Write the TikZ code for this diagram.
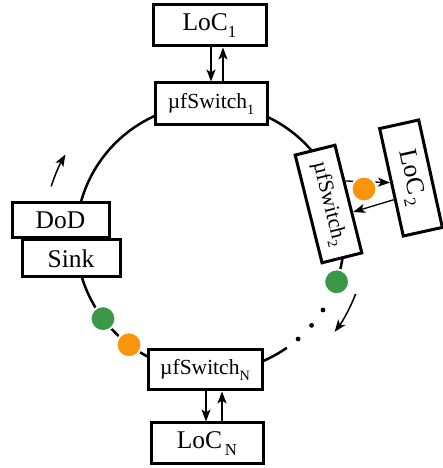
\documentclass[tikz,border=0pt]{standalone}
\usepackage{fontspec}
\setmainfont{Liberation Serif}
\usetikzlibrary{arrows.meta,calc}

\definecolor{hoporange}{RGB}{250,148,10}
\definecolor{hopgreen}{RGB}{58,152,72}
\newcommand\lsub[1]{\raisebox{-0.55ex}{\scalebox{0.66}{#1}}}

\tikzset{
  box/.style={draw, line width=3pt, fill=white, inner sep=0pt,
    minimum height=41pt, font=\fontsize{25.5}{30}\selectfont},
  swbox/.style={box, font=\fontsize{21.5}{26}\selectfont},
  link/.style={-{Stealth[length=12pt,width=9pt,inset=3pt]}, line width=1.3pt},
  flow/.style={-{Stealth[length=12pt,width=9pt,inset=3pt]}, line width=1.5pt},
  ringline/.style={line width=2.5pt},
  hop/.style={circle, fill=#1, draw=white, line width=2pt,
    minimum size=25pt, inner sep=0pt},
}

\begin{document}
\begin{tikzpicture}[x=1pt,y=1pt]
    \useasboundingbox (0,0) rectangle (443,468);
    \coordinate (ring) at (210,230);
    %% Draw the ring
    \draw[ringline] ([shift={(-19:134)}]ring) arc[start angle=-19, end angle=270, radius=134];
    \draw[ringline] ([shift={(-90:134)}]ring) arc[start angle=-90, end angle=-55, radius=134];
    \foreach \a in {-32.5,-40.7,-48.9}
      \fill ([shift={(\a:134)}]ring) circle (2.4);
    %% Draw the direction arrows
    \draw[flow] ([shift={(162:167)}]ring) arc[start angle=162, end angle=150, radius=167];
    \draw[flow] ([shift={(-21:156)}]ring) arc[start angle=-21, end angle=-37, radius=156];
    %% Draw the nodes
    \node[box, minimum width=113pt] (loc1) at (209.5,442.5) {LoC\lsub{1}};
    \node[swbox, minimum width=112pt, minimum height=42pt] (sw1) at (211,364) {µfSwitch\lsub{1}};
    \node[swbox, minimum width=111pt, rotate=-76] (sw2) at (328.5,264) {µfSwitch\lsub{2}};
    \node[box, minimum width=110pt, minimum height=40pt, rotate=-77.6] (loc2) at (411,290) {LoC\lsub{\,2}};
    \node[box, minimum width=97pt, minimum height=35pt] (dod) at (60.5,247.5) {DoD};
    \node[box, minimum width=98pt, minimum height=37pt] (sink) at (71,209.5) {Sink};
    \node[swbox, minimum width=114pt, minimum height=40pt] (swN) at (205,98) {µfSwitch\lsub{N}};
    \node[box, minimum width=112pt] (locN) at (207,24.5) {LoC\lsub{\,N}};
    %% Draw the links
    \draw[link] ([xshift=1.5pt]loc1.south) -- (sw1.north);
    \draw[link] ([xshift=12pt]sw1.north) -- ([xshift=13.5pt]loc1.south);
    \draw[link] ($(sw2.north west)!0.34!(sw2.north east)$) -- (loc2.south);
    \draw[link] ($(loc2.south west)!0.655!(loc2.south east)$) -- ($(sw2.north west)!0.62!(sw2.north east)$);
    \draw[link] ([xshift=1pt]swN.south) -- ([xshift=-1pt]locN.north);
    \draw[link] ([xshift=15pt]locN.north) -- ([xshift=17pt]swN.south);
    %% Draw the packets
    \node[hop=hoporange] (o2) at (364,279) {};
    \node[hop=hopgreen] (g2) at ([shift={(-19.1:134)}]ring) {};
    \node[hop=hopgreen] (gN) at ([shift={(-143:134)}]ring) {};
    \node[hop=hoporange] (oN) at ([shift={(-127.2:134)}]ring) {};
\end{tikzpicture}
\end{document}
